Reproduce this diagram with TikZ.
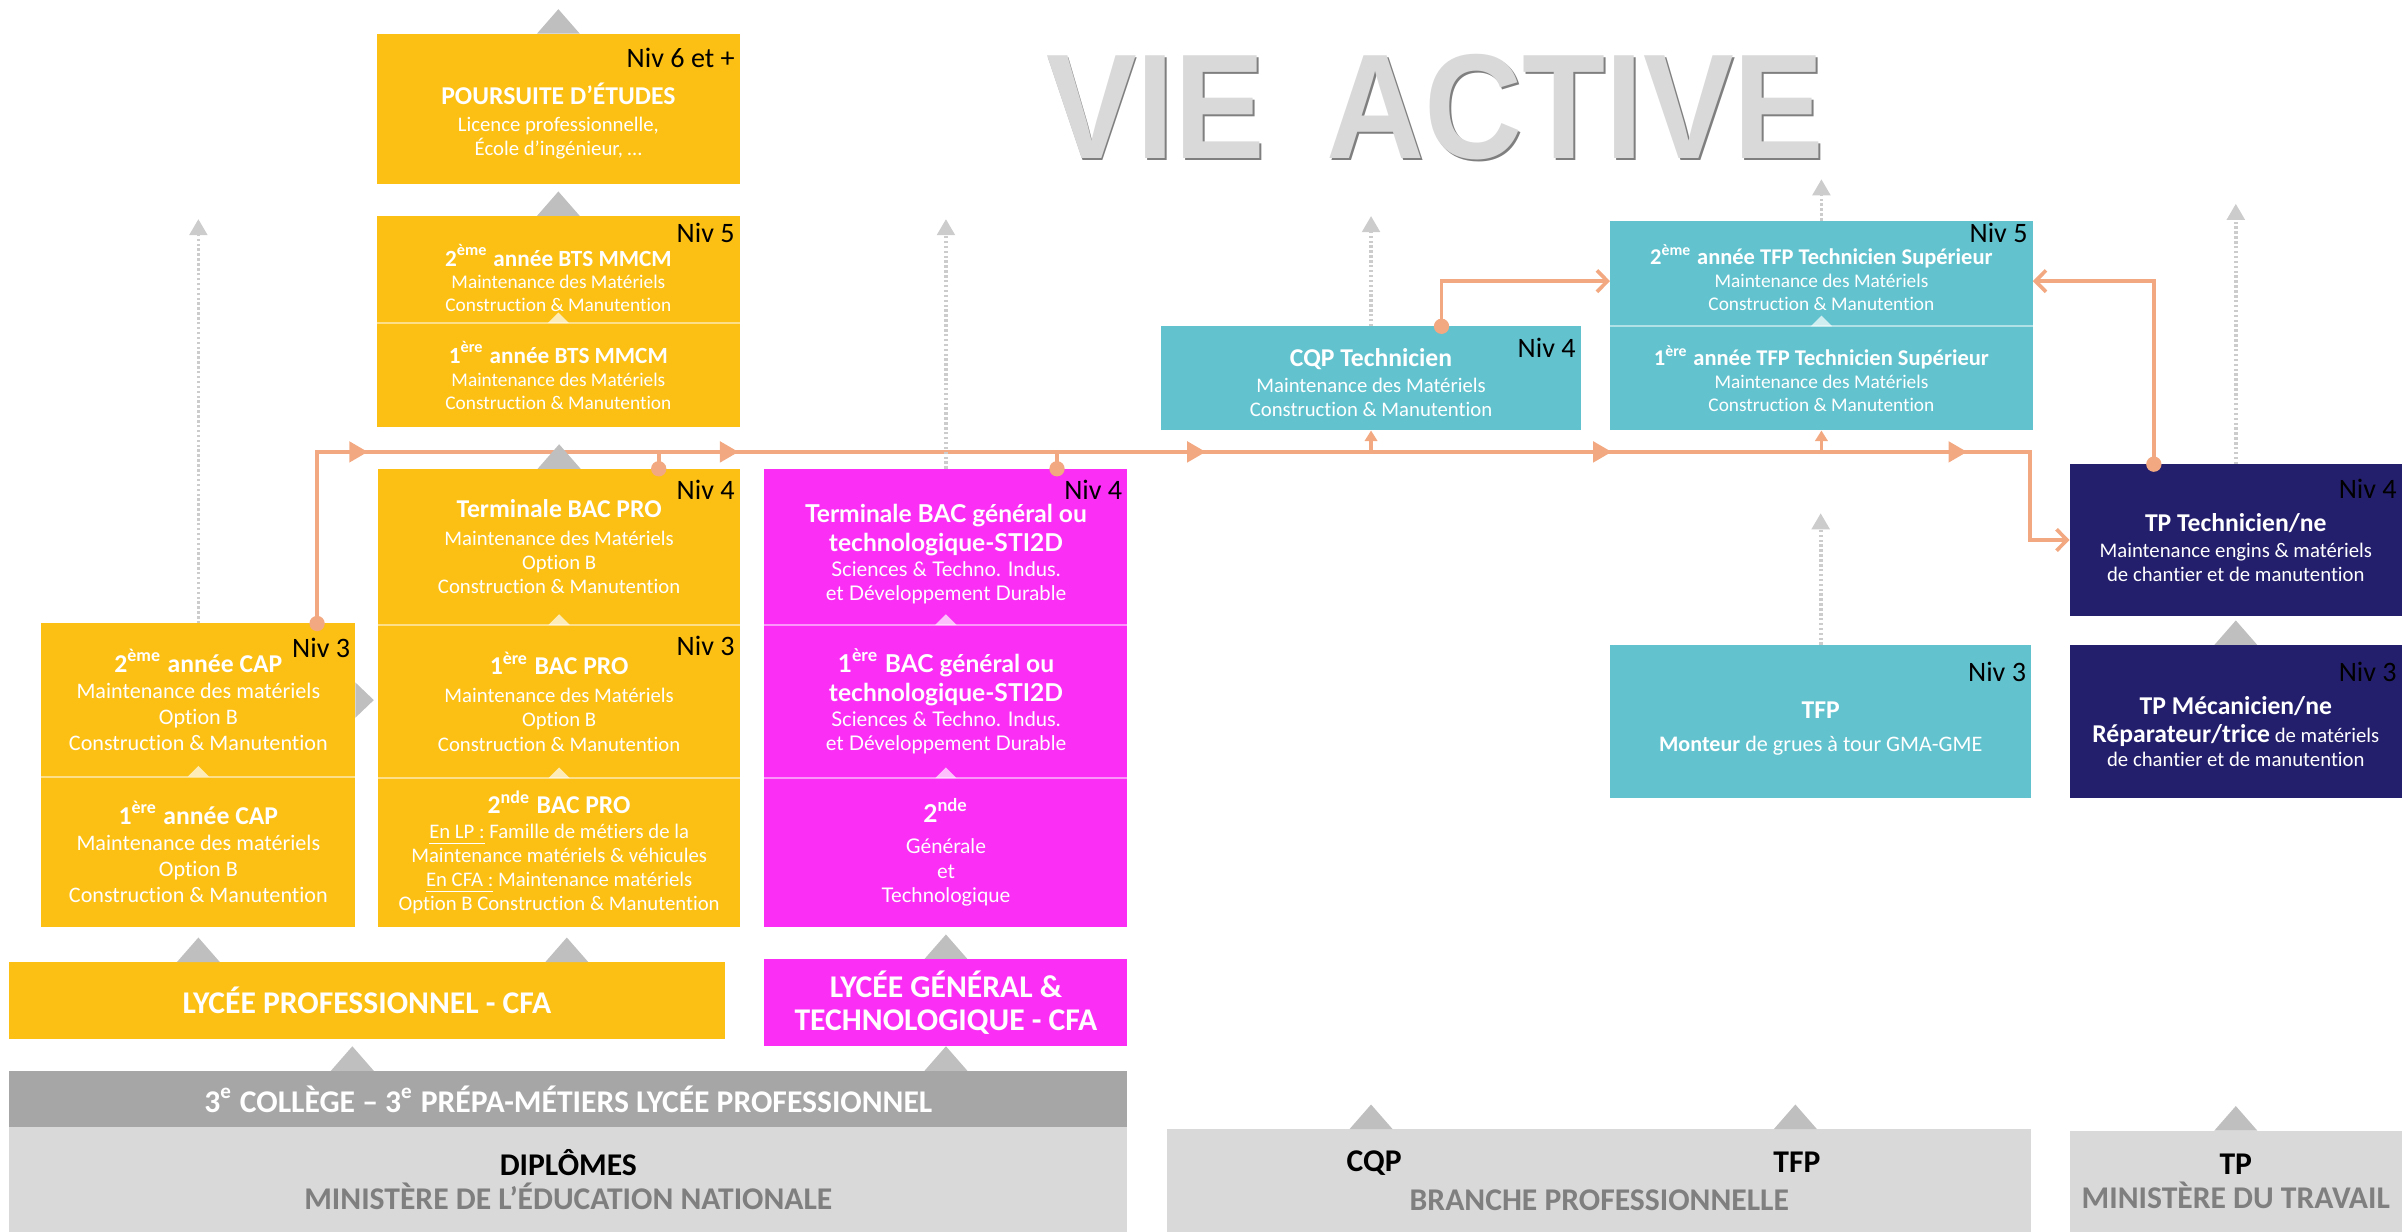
\documentclass[tikz,border=0pt]{standalone}
\usepackage{fontspec}
\setmainfont{Carlito}[Ligatures=NoCommon]
\newfontfamily\lato{Lato}
\newfontfamily\arial{Liberation Sans}
\usepackage{graphicx}
\usetikzlibrary{arrows.meta,calc}

\newlength\pix
\setlength\pix{0.015319cm}

\definecolor{jaune}{HTML}{FCC014}
\definecolor{rose}{HTML}{FA2EF5}
\definecolor{turquoise}{HTML}{62C3CF}
\definecolor{marine}{HTML}{241F6C}
\definecolor{saumon}{HTML}{F2A982}
\definecolor{gristri}{HTML}{BFBFBF}
\definecolor{grisbande}{HTML}{A6A6A6}
\definecolor{grisfond}{HTML}{D9D9D9}
\definecolor{gristexte}{HTML}{7F7F7F}

\newcommand\fniv{\fontsize{8}{9}\selectfont}
\newcommand\fpetit{\fontsize{5.9}{6.9}\selectfont}
\newcommand\ffin{\fontsize{5.5}{6.5}\selectfont}
\newcommand\fmoyen{\fontsize{6.3}{7.4}\selectfont}
\newcommand\ftitre{\fontsize{7.3}{8}\selectfont\bfseries}
\newcommand\ftitrefin{\fontsize{6.6}{7.4}\selectfont\bfseries}
\newcommand\ftitretfp{\fontsize{6.4}{7.4}\selectfont\bfseries}
\newcommand\fgros{\fontsize{9}{9.6}\selectfont\bfseries}
\newcommand\flatopetit{\lato\fontsize{5.75}{6.9}\selectfont}
\newcommand\flatotitre{\lato\fontsize{7}{8}\selectfont\bfseries}

\newcommand\pointe[1]{\fill[gristri] ($(#1)+(-14,0)$) -- ($(#1)+(14,0)$) -- ($(#1)+(0,-16)$) -- cycle;}
\newcommand\minipointe[1]{\fill[white, opacity=.7] ($(#1)+(-7,0)$) -- ($(#1)+(7,0)$) -- ($(#1)+(0,-7)$) -- cycle;}

\begin{document}
\begin{tikzpicture}[
		x=0.015319cm, y=-0.015319cm,
		boite/.style 2 args={inner sep=0pt, outer sep=0pt, anchor=north west, align=center, text=white, minimum width=#1\pix, minimum height=#2\pix},
		bjaune/.style={fill=jaune, font=\fpetit},
		brose/.style={fill=rose, font=\flatopetit},
		bturq/.style={fill=turquoise, font=\fpetit},
		bmarine/.style={fill=marine, font=\fpetit},
		bande/.style={fill=grisfond, text=black, font=\fgros},
		nivlab/.style={anchor=north east, inner sep=0pt, text=black, font=\fniv, xshift=-3\pix, yshift=-7\pix},
		niv/.style={label={[nivlab]north east:Niv #1}},
		separ/.style={draw=white, opacity=.5, line width=1.2\pix},
		ligne/.style={draw=saumon, line width=2.4\pix},
		barbe/.style={-{Straight Barb[length=3pt, width=6.1pt]}},
		pique/.style={-{Triangle[length=3pt, width=3.5pt]}},
		pointille/.style={draw=gray!40, line width=2.4\pix, dash pattern=on 1.6\pix off 1.6\pix, -{Triangle[length=4.6pt, width=5pt]}},
		titrevie/.style={font=\arial\bfseries\fontsize{42.5}{46}\selectfont, inner sep=0pt}
	]
	\useasboundingbox (0,0) rectangle (1568,804);

	\node[titrevie, text=gristexte] (vieombre) at (938.2,71.2) {\scalebox{0.91}[1]{VIE\hspace{0.45em}ACTIVE}};
	\node[titrevie, text=grisfond] (vie) at (937,70) {\scalebox{0.91}[1]{VIE\hspace{0.45em}ACTIVE}};

	% education nationale
	\node[boite={237}{98}, bjaune, label={[nivlab, yshift=-2\pix]north east:Niv 6 et +}] (pours) at (246,22)
		{\rule{0pt}{13pt}\ftitre POURSUITE D’ÉTUDES\\[0.8pt] Licence professionnelle,\\ École d’ingénieur, …};
	\node[boite={237}{70}, bjaune, font=\ffin, label={[nivlab, yshift=3\pix]north east:Niv 5}] (bts2) at (246,141)
		{\rule{0pt}{11pt}\ftitrefin 2\textsuperscript{ème} année BTS MMCM\\ Maintenance des Matériels\\ Construction \& Manutention};
	\node[boite={237}{68}, bjaune, font=\ffin] (bts1) at (246,211)
		{\ftitrefin 1\textsuperscript{ère} année BTS MMCM\\ Maintenance des Matériels\\ Construction \& Manutention};

	\node[boite={236}{102}, bjaune, niv=4] (tbp) at (247,306)
		{\ftitre Terminale BAC PRO\\[1pt] Maintenance des Matériels\\ Option B\\ Construction \& Manutention};
	\node[boite={236}{100}, bjaune, niv=3] (pbp) at (247,408)
		{\ftitre 1\textsuperscript{ère} BAC PRO\\[1pt] Maintenance des Matériels\\ Option B\\ Construction \& Manutention};
	\node[boite={236}{97}, bjaune] (sbp) at (247,508)
		{\ftitre 2\textsuperscript{nde} BAC PRO\\ \underline{En LP :} Famille de métiers de la\\ Maintenance matériels \& véhicules\\ \underline{En CFA :} Maintenance matériels\\ Option B Construction \& Manutention};

	\node[boite={205}{100}, bjaune, font=\fmoyen, label={[nivlab, yshift=-2\pix]north east:Niv 3}] (cap2) at (27,407)
		{\ftitre 2\textsuperscript{ème} année CAP\\ Maintenance des matériels\\ Option B\\ Construction \& Manutention};
	\node[boite={205}{98}, bjaune, font=\fmoyen] (cap1) at (27,507)
		{\ftitre 1\textsuperscript{ère} année CAP\\ Maintenance des matériels\\ Option B\\ Construction \& Manutention};

	\node[boite={237}{102}, brose, niv=4] (tg) at (499,306)
		{\rule{0pt}{9.4pt}\flatotitre Terminale BAC général ou\\[1.4pt] \flatotitre technologique-STI2D\\[0.2pt] Sciences \& Techno. Indus.\\ et Développement Durable};
	\node[boite={237}{100}, brose] (pg) at (499,408)
		{\flatotitre 1\textsuperscript{ère} BAC général ou\\[1.4pt] \flatotitre technologique-STI2D\\[0.2pt] Sciences \& Techno. Indus.\\ et Développement Durable};
	\node[boite={237}{97}, brose] (sg) at (499,508)
		{\flatotitre 2\textsuperscript{nde}\\[2pt] Générale\\ et\\ Technologique};

	\node[boite={467}{50}, fill=jaune, font=\fgros] (lyp) at (6,628) {LYCÉE PROFESSIONNEL - CFA};
	\node[boite={237}{57}, fill=rose, font=\fgros] (lyg) at (499,626) {LYCÉE GÉNÉRAL \&\\ TECHNOLOGIQUE - CFA};
	\node[boite={730}{37}, fill=grisbande, font=\fgros] (college) at (6,699)
		{3\textsuperscript{e} COLLÈGE – 3\textsuperscript{e} PRÉPA-MÉTIERS LYCÉE PROFESSIONNEL};
	\node[boite={730}{68}, bande] (diplomes) at (6,736) {DIPLÔMES\\ \color{gristexte}MINISTÈRE DE L’ÉDUCATION NATIONALE};

	% branche professionnelle
	\node[boite={274}{68}, bturq, niv=4] (cqp) at (758,213)
		{\rule{0pt}{7.5pt}\ftitre CQP Technicien\\[0.5pt] Maintenance des Matériels\\ Construction \& Manutention};
	\node[boite={276}{69}, bturq, font=\ffin, label={[nivlab, yshift=6\pix]north east:Niv 5}] (tfp2) at (1051,144)
		{\rule{0pt}{8pt}\ftitretfp 2\textsuperscript{ème} année TFP Technicien Supérieur\\ Maintenance des Matériels\\ Construction \& Manutention};
	\node[boite={276}{68}, bturq, font=\ffin] (tfp1) at (1051,213)
		{\ftitretfp 1\textsuperscript{ère} année TFP Technicien Supérieur\\ Maintenance des Matériels\\ Construction \& Manutention};
	\node[boite={275}{100}, bturq, font=\fmoyen, label={[nivlab, yshift=-3.5\pix]north east:Niv 3}] (tfpm) at (1051,421)
		{\rule{0pt}{9pt}\ftitre TFP\\[2pt] {\bfseries Monteur} de grues à tour GMA-GME};
	\node[boite={564}{67}, bande] (branche) at (762,737) {\phantom{DIPLÔMES}\\ \color{gristexte}BRANCHE PROFESSIONNELLE};
	\node[font=\fgros, inner sep=0pt] (cqpl) at (897,759) {CQP};
	\node[font=\fgros, inner sep=0pt] (tfpl) at (1173,759) {TFP};

	% ministere du travail
	\node[boite={217}{99}, bmarine, label={[nivlab, yshift=-2\pix]north east:Niv 4}] (tpt) at (1351,303)
		{\rule{0pt}{9.4pt}\ftitre TP Technicien/ne\\[0.6pt] Maintenance engins \& matériels\\ de chantier et de manutention};
	\node[boite={217}{100}, bmarine, label={[nivlab, yshift=-3.5\pix]north east:Niv 3}] (tpm) at (1351,421)
		{\rule{0pt}{11pt}\ftitre TP Mécanicien/ne\\[1pt] {\ftitre Réparateur/trice} de matériels\\ de chantier et de manutention};
	\node[boite={217}{66}, bande] (travail) at (1351,738) {TP\\ \color{gristexte}MINISTÈRE DU TRAVAIL};

	% separations
	\draw[separ] (bts1.north west) -- (bts1.north east);
	\draw[separ] (pbp.north west) -- (pbp.north east);
	\draw[separ] (sbp.north west) -- (sbp.north east);
	\draw[separ] (cap1.north west) -- (cap1.north east);
	\draw[separ] (pg.north west) -- (pg.north east);
	\draw[separ] (sg.north west) -- (sg.north east);
	\draw[separ] (tfp1.north west) -- (tfp1.north east);
	\minipointe{bts1.north}
	\minipointe{pbp.north}
	\minipointe{sbp.north}
	\minipointe{cap1.north}
	\minipointe{pg.north}
	\minipointe{sg.north}
	\minipointe{tfp1.north}

	% passerelles
	\coordinate (bus0) at (207,295);
	\coordinate (bus1) at (1325,295);
	\coordinate (dcap) at ([xshift=-25\pix]cap2.north east);
	\coordinate (dtbp) at ([xshift=-53\pix]tbp.north east);
	\coordinate (dtg) at ([xshift=-46\pix]tg.north east);
	\coordinate (dcqp) at ([xshift=-91\pix]cqp.north east);
	\coordinate (dtpt) at ([xshift=55\pix]tpt.north west);

	\draw[ligne, barbe] (dcap) |- (bus1) |- (tpt.west);
	\draw[ligne] (dtbp) -- (dtbp |- bus0);
	\draw[ligne] (dtg) -- (dtg |- bus0);
	\draw[ligne, pique] (cqp.south |- bus0) -- (cqp.south);
	\draw[ligne, pique] (tfp1.south |- bus0) -- (tfp1.south);
	\draw[ligne, barbe] (dcqp) |- ([yshift=-5\pix]tfp2.west);
	\draw[ligne, barbe] (dtpt) |- ([yshift=-5\pix]tfp2.east);
	\fill[saumon] (dcap) circle[radius=5\pix];
	\fill[saumon] (dtbp) circle[radius=5\pix];
	\fill[saumon] (dtg) circle[radius=5\pix];
	\fill[saumon] (dcqp) circle[radius=5\pix];
	\fill[saumon] (dtpt) circle[radius=5\pix];
	\fill[saumon] (240,295) -- (228,288) -- (228,302) -- cycle;
	\fill[saumon] (482,295) -- (470,288) -- (470,302) -- cycle;
	\fill[saumon] (787,295) -- (775,288) -- (775,302) -- cycle;
	\fill[saumon] (1052,295) -- (1040,288) -- (1040,302) -- cycle;
	\fill[saumon] (1284,295) -- (1272,288) -- (1272,302) -- cycle;

	% fleches grises
	\coordinate (tlp1) at (cap1 |- lyp.north);
	\coordinate (tlp2) at ([xshift=5\pix]sbp |- lyp.north);
	\coordinate (tcol1) at ([xshift=224\pix]college.north west);
	\coordinate (tcol2) at (lyg |- college.north);
	\coordinate (tbr1) at ([xshift=133\pix]branche.north west);
	\coordinate (tbr2) at ([xshift=410\pix]branche.north west);
	\pointe{pours.north}
	\pointe{bts2.north}
	\pointe{tbp.north}
	\pointe{tlp1}
	\pointe{tlp2}
	\pointe{lyg.north}
	\pointe{tcol1}
	\pointe{tcol2}
	\pointe{tbr1}
	\pointe{tbr2}
	\pointe{travail.north}
	\pointe{tpm.north}
	\fill[gristri] ($(cap2.east)+(0,-11.5)$) -- ($(cap2.east)+(12,0)$) -- ($(cap2.east)+(0,11.5)$) -- cycle;

	% vers la vie active
	\coordinate (sortie1) at (129.5,143);
	\coordinate (sortie2) at (617.5,143);
	\coordinate (sortie3) at (895,141);
	\coordinate (sortie4) at (1189,117);
	\coordinate (sortie5) at (1459.5,133);
	\coordinate (sortie6) at (1188.5,335);
	\draw[pointille] (cap2.north) -- (sortie1);
	\draw[pointille] (tg.north) -- (sortie2);
	\draw[pointille] (cqp.north) -- (sortie3);
	\draw[pointille] (tfp2.north) -- (sortie4);
	\draw[pointille] (tpt.north) -- (sortie5);
	\draw[pointille] (tfpm.north) -- (sortie6);
\end{tikzpicture}
\end{document}
